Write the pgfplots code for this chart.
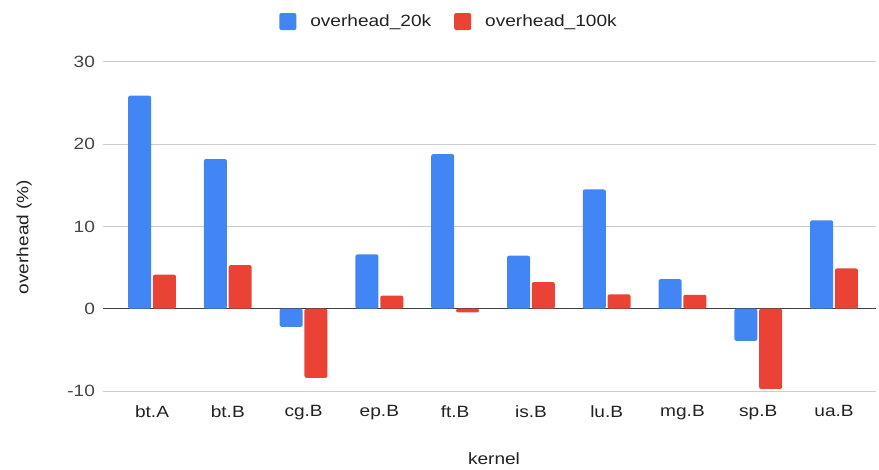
\documentclass[border=0pt]{standalone}
\usepackage{fontspec}
\setmainfont{Liberation Sans}[FakeStretch=1.17]
\usepackage{pgfplots}
\pgfplotsset{compat=1.18}
\definecolor{gblue}{HTML}{4285F4}
\definecolor{gred}{HTML}{EA4335}
\definecolor{gridc}{HTML}{CCCCCC}
\definecolor{txt}{HTML}{444444}
\definecolor{dtxt}{HTML}{222222}
\newcommand{\cf}{\fontsize{16.3pt}{19pt}\selectfont}
\begin{document}
\begin{tikzpicture}
\useasboundingbox (0,0) rectangle (879pt,469pt);
\begin{axis}[
  at={(103pt,78pt)}, anchor=south west,
  scale only axis, width=772.7pt, height=329pt,
  xmin=-0.647, xmax=9.55, ymin=-10, ymax=30,
  ytick={-10,0,10,20,30},
  xtick=data,
  xticklabels={bt.A,bt.B,cg.B,ep.B,ft.B,is.B,lu.B,mg.B,sp.B,ua.B},
  /pgf/number format/assume math mode=true,
  axis line style={draw=none},
  major tick length=0pt,
  ymajorgrids, grid style={gridc, line width=1pt},
  extra y ticks={0}, extra y tick labels={},
  extra y tick style={grid style={draw=black!75, line width=1.3pt}},
  tick label style={font=\cf, text=txt},
  yticklabel style={xshift=-4.6pt},
  xticklabel style={yshift=-11pt, text=dtxt},
  xlabel={kernel}, ylabel={overhead (\%)},
  every axis x label/.style={at={(axis description cs:0.506,-0.207)}, anchor=center, font=\cf, text=dtxt},
  every axis y label/.style={at={(axis description cs:-0.102,0.468)}, anchor=center, rotate=90, font=\cf, text=dtxt},
  ybar=1.8pt, bar width=23pt,
  legend columns=2,
  legend style={at={(axis description cs:0.4465,1.123)}, anchor=center, draw=none, fill=none,
    font=\cf, text=dtxt, nodes={inner sep=0pt},
    /tikz/every odd column/.append style={column sep=14pt},
    /tikz/every even column/.append style={column sep=23pt}},
  legend image code/.code={\fill[#1, rounded corners=2pt] (0pt,-8.5pt) rectangle (17pt,8.5pt);},
]
\addplot[fill=gblue, draw=none, rounded corners=2pt] coordinates {
(0,25.9) (1,18.2) (2,-2.2) (3,6.6) (4,18.8) (5,6.45) (6,14.5) (7,3.6) (8,-3.9) (9,10.75)};
\addplot[fill=gred, draw=none, rounded corners=2pt] coordinates {
(0,4.15) (1,5.3) (2,-8.4) (3,1.6) (4,-0.45) (5,3.25) (6,1.75) (7,1.7) (8,-9.75) (9,4.9)};
\legend{overhead\_20k, overhead\_100k}
\end{axis}
\end{tikzpicture}
\end{document}
